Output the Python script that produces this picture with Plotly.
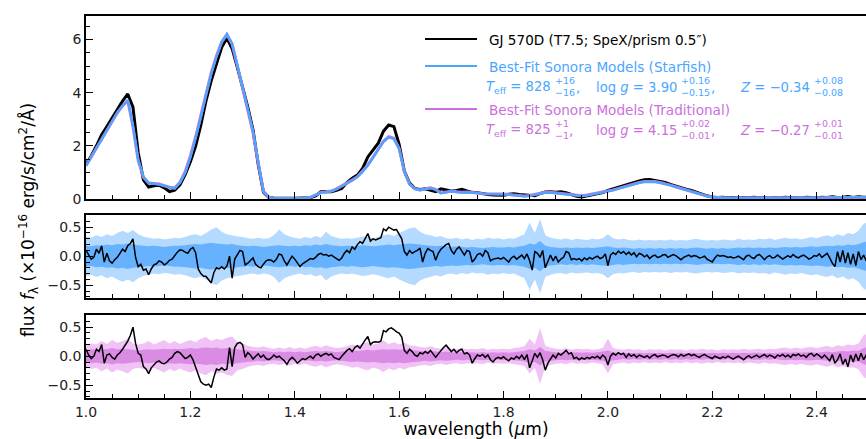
import plotly.graph_objects as go

# ---------------- data ----------------
W_TOP = [round(1.0 + 0.01 * i, 2) for i in range(151)]
W_RES = [round(1.0 + 0.005 * i, 3) for i in range(301)]

FLUX_OBS = [
    1.30, 1.62, 2.00, 2.42, 2.72, 3.05, 3.35, 3.68, 3.95, 3.45,
    1.75, 0.72, 0.45, 0.50, 0.52, 0.42, 0.28, 0.33, 0.53, 0.92,
    1.40, 1.98, 2.78, 3.70, 4.45, 5.05, 5.70, 6.05, 5.65, 4.95,
    4.25, 3.45, 2.60, 1.30, 0.25, 0.06, 0.04, 0.03, 0.04, 0.03,
    0.03, 0.04, 0.03, 0.05, 0.12, 0.27, 0.28, 0.27, 0.33, 0.40,
    0.62, 0.78, 0.90, 1.15, 1.58, 1.82, 2.10, 2.55, 2.78, 2.72,
    2.05, 1.05, 0.60, 0.40, 0.36, 0.38, 0.33, 0.28, 0.38, 0.33,
    0.30, 0.32, 0.36, 0.30, 0.25, 0.24, 0.20, 0.17, 0.15, 0.15,
    0.14, 0.18, 0.20, 0.17, 0.16, 0.14, 0.12, 0.20, 0.26, 0.27,
    0.25, 0.27, 0.24, 0.17, 0.10, 0.08, 0.12, 0.18, 0.20, 0.24,
    0.32, 0.38, 0.43, 0.50, 0.56, 0.63, 0.68, 0.72, 0.73, 0.70,
    0.66, 0.62, 0.55, 0.48, 0.42, 0.37, 0.32, 0.25, 0.19, 0.12,
    0.08, 0.06, 0.07, 0.05, 0.06, 0.04, 0.06, 0.05, 0.07, 0.05,
    0.06, 0.04, 0.06, 0.05, 0.07, 0.05, 0.06, 0.04, 0.07, 0.06,
    0.05, 0.07, 0.06, 0.08, 0.06, 0.07, 0.09, 0.06, 0.08, 0.07,
    0.06]

FLUX_STARFISH = [
    1.25, 1.58, 1.93, 2.28, 2.62, 2.95, 3.25, 3.52, 3.72, 2.75,
    1.48, 0.84, 0.60, 0.58, 0.55, 0.50, 0.44, 0.40, 0.60, 0.98,
    1.55, 2.25, 3.05, 3.92, 4.70, 5.35, 5.90, 6.20, 5.85, 5.05,
    4.25, 3.42, 2.55, 1.40, 0.30, 0.07, 0.03, 0.02, 0.02, 0.02,
    0.02, 0.03, 0.03, 0.06, 0.14, 0.24, 0.26, 0.29, 0.37, 0.47,
    0.58, 0.70, 0.83, 1.02, 1.26, 1.55, 1.86, 2.15, 2.32, 2.26,
    1.88, 1.02, 0.55, 0.38, 0.33, 0.36, 0.41, 0.35, 0.22, 0.25,
    0.30, 0.26, 0.24, 0.25, 0.24, 0.22, 0.19, 0.18, 0.18, 0.18,
    0.18, 0.16, 0.14, 0.12, 0.10, 0.12, 0.16, 0.21, 0.24, 0.24,
    0.22, 0.20, 0.18, 0.15, 0.12, 0.11, 0.14, 0.18, 0.22, 0.25,
    0.28, 0.33, 0.39, 0.45, 0.51, 0.56, 0.61, 0.64, 0.65, 0.64,
    0.61, 0.57, 0.51, 0.45, 0.39, 0.33, 0.28, 0.22, 0.16, 0.11,
    0.07, 0.05, 0.05, 0.04, 0.04, 0.03, 0.03, 0.03, 0.03, 0.03,
    0.03, 0.03, 0.04, 0.03, 0.04, 0.04, 0.04, 0.04, 0.05, 0.04,
    0.05, 0.05, 0.05, 0.05, 0.06, 0.05, 0.06, 0.06, 0.06, 0.06,
    0.06]

FLUX_TRADITIONAL = [
    1.25, 1.58, 1.93, 2.28, 2.62, 2.94, 3.24, 3.50, 3.70, 2.72,
    1.45, 0.82, 0.60, 0.58, 0.56, 0.50, 0.44, 0.41, 0.63, 1.03,
    1.62, 2.33, 3.12, 4.00, 4.75, 5.38, 5.90, 6.18, 5.82, 5.00,
    4.20, 3.38, 2.50, 1.35, 0.28, 0.07, 0.03, 0.02, 0.02, 0.02,
    0.02, 0.03, 0.03, 0.06, 0.15, 0.25, 0.27, 0.30, 0.38, 0.48,
    0.59, 0.71, 0.84, 1.04, 1.28, 1.57, 1.88, 2.17, 2.34, 2.28,
    1.90, 1.04, 0.56, 0.39, 0.34, 0.37, 0.42, 0.36, 0.23, 0.26,
    0.31, 0.27, 0.25, 0.26, 0.25, 0.23, 0.20, 0.19, 0.19, 0.19,
    0.19, 0.17, 0.15, 0.13, 0.11, 0.13, 0.17, 0.22, 0.25, 0.25,
    0.23, 0.21, 0.19, 0.16, 0.13, 0.12, 0.15, 0.19, 0.23, 0.26,
    0.29, 0.34, 0.40, 0.46, 0.52, 0.57, 0.62, 0.66, 0.67, 0.66,
    0.62, 0.58, 0.52, 0.46, 0.40, 0.34, 0.29, 0.23, 0.17, 0.11,
    0.07, 0.05, 0.05, 0.04, 0.04, 0.04, 0.04, 0.03, 0.03, 0.03,
    0.03, 0.04, 0.04, 0.04, 0.04, 0.04, 0.05, 0.04, 0.05, 0.05,
    0.05, 0.05, 0.06, 0.05, 0.06, 0.06, 0.06, 0.06, 0.07, 0.06,
    0.06]

RESID_STARFISH = [
    0.10, 0.02, -0.05, -0.02, 0.12, 0.05, 0.18, -0.10, 0.05, -0.08,
    -0.12, -0.06, -0.02, 0.05, 0.12, 0.08, 0.18, 0.22, 0.30, -0.02,
    -0.18, -0.14, -0.24, -0.22, -0.32, -0.22, -0.15, -0.13, -0.08, -0.10,
    -0.15, -0.12, -0.07, -0.05, 0.02, 0.07, 0.11, 0.10, 0.07, 0.05,
    0.12, 0.15, 0.06, -0.22, -0.30, -0.34, -0.35, -0.40, -0.46, -0.28,
    -0.20, -0.22, -0.18, -0.22, -0.17, 0.00, -0.38, -0.05, 0.03, 0.10,
    0.08, -0.15, -0.12, -0.08, -0.03, -0.14, -0.18, -0.20, -0.14, -0.08,
    -0.06, -0.07, -0.10, -0.05, 0.04, 0.02, -0.08, -0.15, -0.07, 0.00,
    -0.05, -0.12, -0.18, -0.13, -0.10, -0.08, -0.04, -0.05, -0.02, 0.03,
    0.05, 0.02, 0.03, 0.00, 0.02, -0.01, -0.04, -0.07, -0.03, 0.05,
    0.10, 0.06, 0.16, 0.12, 0.20, 0.25, 0.22, 0.30, 0.39, 0.26,
    0.30, 0.28, 0.30, 0.32, 0.47, 0.44, 0.50, 0.48, 0.45, 0.46,
    0.38, 0.30, 0.08, 0.02, 0.10, 0.05, 0.08, 0.10, 0.14, -0.10,
    0.05, 0.13, 0.10, 0.08, -0.07, 0.05, 0.12, 0.16, 0.20, 0.22,
    0.10, 0.04, 0.12, 0.16, 0.08, 0.02, 0.10, 0.08, -0.10, -0.05,
    0.03, 0.05, 0.00, 0.10, 0.06, -0.08, -0.05, -0.04, -0.03, -0.05,
    -0.02, -0.06, -0.10, -0.03, 0.00, -0.05, -0.02, 0.02, -0.04, 0.04,
    -0.08, -0.24, 0.08, 0.05, -0.02, 0.10, -0.20, -0.10, 0.02, -0.08,
    0.00, -0.10, -0.05, -0.02, 0.08, 0.06, -0.06, -0.04, -0.06, -0.04,
    -0.08, -0.03, -0.06, -0.02, -0.05, -0.02, 0.00, -0.04, -0.02, 0.04,
    -0.16, 0.02, 0.06, 0.03, 0.09, 0.05, 0.08, 0.03, 0.07, 0.02,
    0.06, -0.01, 0.05, 0.03, -0.01, 0.02, -0.04, 0.00, 0.02, -0.02,
    -0.01, 0.02, 0.03, -0.02, 0.01, 0.03, 0.01, -0.03, -0.06, -0.02,
    0.00, 0.02, -0.01, 0.01, 0.00, -0.03, -0.02, 0.00, -0.05, -0.08,
    -0.10, -0.03, 0.02, 0.00, 0.01, 0.00, -0.02, -0.01, -0.03, -0.02,
    0.00, -0.03, -0.06, 0.00, 0.02, -0.02, -0.04, 0.01, 0.03, -0.01,
    -0.06, -0.01, 0.01, -0.03, -0.02, 0.02, -0.01, -0.05, -0.02, 0.01,
    -0.02, 0.03, -0.01, -0.03, 0.00, 0.02, -0.01, -0.05, -0.03, 0.01,
    0.00, 0.04, -0.02, 0.01, 0.05, -0.03, -0.12, -0.18, 0.08, -0.10,
    0.10, -0.12, 0.06, -0.14, 0.04, -0.16, 0.08, -0.06, 0.02, -0.08,
    0.05]

RESID_TRADITIONAL = [
    0.12, 0.02, -0.04, 0.00, 0.12, 0.08, 0.20, -0.12, 0.02, 0.04,
    -0.02, -0.05, 0.02, 0.06, 0.12, 0.18, 0.26, 0.36, 0.50, 0.22,
    0.05, 0.02, -0.18, -0.22, -0.30, -0.20, -0.15, -0.10, -0.08, -0.12,
    -0.13, -0.10, -0.05, -0.02, 0.05, 0.08, 0.06, 0.00, -0.04, -0.02,
    0.02, -0.06, -0.20, -0.32, -0.44, -0.48, -0.50, -0.48, -0.54, -0.36,
    -0.22, -0.24, -0.20, -0.24, -0.22, 0.15, -0.18, 0.15, 0.22, 0.24,
    0.20, -0.02, 0.06, 0.02, -0.05, 0.00, 0.04, -0.02, 0.02, -0.04,
    -0.06, -0.03, 0.02, -0.02, 0.00, -0.04, -0.08, -0.14, -0.06, -0.02,
    -0.06, -0.12, -0.08, -0.04, -0.06, -0.03, 0.00, -0.04, 0.02, 0.04,
    0.00, 0.03, 0.05, 0.02, 0.04, -0.02, -0.04, -0.06, 0.00, 0.05,
    0.10, 0.13, 0.08, 0.15, 0.18, 0.14, 0.22, 0.28, 0.34, 0.20,
    0.24, 0.25, 0.24, 0.26, 0.44, 0.42, 0.47, 0.49, 0.46, 0.42,
    0.40, 0.33, 0.10, 0.05, 0.12, 0.08, 0.02, 0.00, 0.06, 0.04,
    0.08, 0.05, 0.10, 0.03, -0.02, 0.04, 0.10, 0.15, 0.19, 0.14,
    0.08, 0.12, 0.06, 0.10, 0.12, 0.04, 0.06, 0.02, -0.12, -0.04,
    0.02, 0.00, 0.03, -0.02, 0.02, -0.06, -0.10, -0.04, -0.02, -0.04,
    -0.01, -0.05, -0.08, -0.03, -0.05, 0.00, -0.04, 0.02, -0.06, 0.03,
    -0.20, -0.08, 0.05, -0.02, 0.06, -0.06, -0.24, -0.12, -0.04, 0.02,
    -0.03, 0.05, 0.02, 0.06, 0.10, 0.04, 0.06, -0.04, -0.02, -0.06,
    -0.03, -0.05, -0.02, -0.04, -0.01, -0.03, 0.00, -0.04, 0.02, -0.02,
    -0.15, 0.00, 0.05, 0.02, 0.06, 0.03, 0.05, -0.02, 0.04, 0.00,
    0.03, -0.02, 0.02, 0.00, -0.02, 0.01, -0.03, 0.01, 0.03, -0.01,
    0.00, 0.02, 0.01, -0.02, 0.01, 0.03, 0.02, -0.01, 0.03, 0.00,
    0.02, 0.04, 0.01, 0.03, 0.00, -0.02, 0.01, 0.03, 0.00, -0.02,
    -0.04, 0.00, -0.02, -0.04, -0.01, -0.03, 0.00, -0.02, -0.05, -0.02,
    0.00, -0.03, -0.06, -0.02, 0.01, -0.03, -0.01, 0.02, -0.02, 0.00,
    0.03, -0.01, 0.02, 0.00, -0.03, 0.02, 0.00, 0.03, -0.01, 0.02,
    -0.02, 0.03, 0.01, 0.04, 0.00, 0.02, -0.02, 0.03, 0.05, 0.00,
    0.04, 0.01, -0.03, 0.02, -0.04, -0.08, 0.03, -0.12, -0.06, 0.04,
    -0.14, -0.05, -0.18, 0.02, -0.10, 0.04, -0.08, 0.05, -0.06, 0.02,
    0.00]

# half-widths of the 1-sigma / 2-sigma residual bands (on W_TOP grid)
BAND_STARFISH_1 = [
    0.18, 0.17, 0.19, 0.18, 0.20, 0.19, 0.21, 0.20, 0.22, 0.20,
    0.19, 0.18, 0.17, 0.18, 0.17, 0.16, 0.17, 0.18, 0.18, 0.19,
    0.20, 0.21, 0.20, 0.22, 0.23, 0.22, 0.21, 0.20, 0.21, 0.19,
    0.18, 0.17, 0.18, 0.17, 0.16, 0.17, 0.18, 0.19, 0.18, 0.17,
    0.18, 0.17, 0.19, 0.18, 0.20, 0.19, 0.21, 0.19, 0.18, 0.17,
    0.18, 0.17, 0.18, 0.19, 0.18, 0.17, 0.18, 0.19, 0.20, 0.19,
    0.20, 0.21, 0.22, 0.21, 0.20, 0.19, 0.18, 0.17, 0.18, 0.17,
    0.16, 0.17, 0.16, 0.15, 0.16, 0.15, 0.14, 0.15, 0.16, 0.15,
    0.15, 0.16, 0.15, 0.17, 0.18, 0.22, 0.20, 0.26, 0.18, 0.16,
    0.15, 0.14, 0.15, 0.14, 0.15, 0.14, 0.15, 0.14, 0.15, 0.16,
    0.17, 0.15, 0.14, 0.15, 0.14, 0.13, 0.14, 0.13, 0.14, 0.13,
    0.14, 0.13, 0.14, 0.13, 0.14, 0.13, 0.14, 0.15, 0.14, 0.13,
    0.14, 0.13, 0.14, 0.13, 0.14, 0.15, 0.14, 0.15, 0.14, 0.15,
    0.14, 0.15, 0.14, 0.15, 0.16, 0.15, 0.16, 0.15, 0.16, 0.17,
    0.16, 0.17, 0.18, 0.17, 0.19, 0.18, 0.20, 0.19, 0.21, 0.24,
    0.26]
BAND_STARFISH_2 = [
    0.34, 0.32, 0.36, 0.33, 0.38, 0.35, 0.40, 0.44, 0.40, 0.45,
    0.38, 0.34, 0.32, 0.30, 0.31, 0.29, 0.30, 0.32, 0.31, 0.33,
    0.36, 0.38, 0.35, 0.40, 0.46, 0.50, 0.42, 0.38, 0.36, 0.34,
    0.33, 0.31, 0.30, 0.32, 0.30, 0.31, 0.36, 0.46, 0.38, 0.34,
    0.32, 0.30, 0.33, 0.31, 0.35, 0.32, 0.42, 0.35, 0.32, 0.30,
    0.31, 0.30, 0.32, 0.34, 0.33, 0.31, 0.33, 0.36, 0.38, 0.35,
    0.40, 0.44, 0.48, 0.50, 0.42, 0.38, 0.36, 0.33, 0.35, 0.31,
    0.30, 0.32, 0.29, 0.31, 0.28, 0.30, 0.29, 0.32, 0.30, 0.31,
    0.29, 0.31, 0.30, 0.34, 0.38, 0.58, 0.40, 0.64, 0.36, 0.32,
    0.30, 0.29, 0.31, 0.28, 0.30, 0.29, 0.28, 0.30, 0.29, 0.31,
    0.38, 0.31, 0.29, 0.30, 0.28, 0.27, 0.29, 0.27, 0.28, 0.27,
    0.28, 0.27, 0.29, 0.27, 0.28, 0.27, 0.29, 0.30, 0.28, 0.27,
    0.28, 0.27, 0.29, 0.28, 0.27, 0.30, 0.28, 0.29, 0.28, 0.30,
    0.29, 0.31, 0.28, 0.30, 0.32, 0.30, 0.31, 0.29, 0.31, 0.33,
    0.31, 0.34, 0.36, 0.33, 0.38, 0.35, 0.40, 0.38, 0.44, 0.56,
    0.60]
BAND_TRAD_1 = [
    0.10, 0.12, 0.11, 0.13, 0.12, 0.14, 0.12, 0.13, 0.12, 0.11,
    0.10, 0.11, 0.12, 0.11, 0.12, 0.13, 0.12, 0.13, 0.12, 0.13,
    0.14, 0.13, 0.14, 0.15, 0.14, 0.15, 0.13, 0.14, 0.13, 0.12,
    0.11, 0.10, 0.09, 0.08, 0.09, 0.08, 0.07, 0.08, 0.07, 0.08,
    0.07, 0.08, 0.07, 0.08, 0.09, 0.08, 0.09, 0.08, 0.07, 0.08,
    0.09, 0.10, 0.09, 0.10, 0.11, 0.10, 0.11, 0.12, 0.11, 0.12,
    0.11, 0.12, 0.11, 0.10, 0.09, 0.08, 0.09, 0.08, 0.07, 0.08,
    0.07, 0.06, 0.07, 0.06, 0.07, 0.06, 0.07, 0.06, 0.07, 0.06,
    0.07, 0.06, 0.07, 0.08, 0.09, 0.12, 0.10, 0.16, 0.09, 0.08,
    0.07, 0.06, 0.07, 0.06, 0.07, 0.06, 0.07, 0.06, 0.07, 0.08,
    0.10, 0.07, 0.06, 0.05, 0.06, 0.05, 0.06, 0.05, 0.06, 0.05,
    0.06, 0.05, 0.06, 0.05, 0.06, 0.05, 0.06, 0.05, 0.06, 0.05,
    0.06, 0.05, 0.06, 0.05, 0.06, 0.05, 0.06, 0.05, 0.06, 0.06,
    0.05, 0.06, 0.05, 0.06, 0.07, 0.06, 0.07, 0.06, 0.07, 0.07,
    0.06, 0.07, 0.08, 0.07, 0.08, 0.09, 0.08, 0.10, 0.09, 0.14,
    0.16]
BAND_TRAD_2 = [
    0.18, 0.22, 0.20, 0.26, 0.21, 0.28, 0.23, 0.26, 0.30, 0.22,
    0.20, 0.22, 0.26, 0.20, 0.24, 0.28, 0.22, 0.26, 0.21, 0.25,
    0.28, 0.24, 0.30, 0.33, 0.26, 0.30, 0.28, 0.32, 0.34, 0.24,
    0.22, 0.18, 0.16, 0.15, 0.17, 0.14, 0.13, 0.15, 0.13, 0.16,
    0.13, 0.15, 0.13, 0.16, 0.18, 0.15, 0.19, 0.16, 0.14, 0.15,
    0.17, 0.20, 0.18, 0.22, 0.24, 0.20, 0.22, 0.27, 0.21, 0.24,
    0.20, 0.23, 0.19, 0.18, 0.16, 0.15, 0.17, 0.14, 0.13, 0.15,
    0.13, 0.12, 0.14, 0.12, 0.13, 0.12, 0.14, 0.11, 0.13, 0.12,
    0.13, 0.12, 0.14, 0.15, 0.17, 0.30, 0.20, 0.48, 0.18, 0.15,
    0.13, 0.12, 0.14, 0.11, 0.13, 0.12, 0.13, 0.11, 0.12, 0.14,
    0.30, 0.14, 0.12, 0.11, 0.13, 0.11, 0.12, 0.10, 0.12, 0.11,
    0.12, 0.10, 0.12, 0.11, 0.12, 0.10, 0.12, 0.11, 0.13, 0.11,
    0.12, 0.10, 0.12, 0.11, 0.12, 0.11, 0.13, 0.11, 0.12, 0.13,
    0.11, 0.13, 0.12, 0.14, 0.15, 0.13, 0.15, 0.13, 0.15, 0.16,
    0.14, 0.16, 0.18, 0.15, 0.19, 0.17, 0.20, 0.19, 0.22, 0.36,
    0.40]

X_TICKS = [1.0, 1.2, 1.4, 1.6, 1.8, 2.0, 2.2, 2.4]
X_TICK_LABELS = ["1.0", "1.2", "1.4", "1.6", "1.8", "2.0", "2.2", "2.4"]
Y_TOP_TICKS = [0, 2, 4, 6]
Y_RES_TICKS = [-0.5, 0.0, 0.5]
Y_RES_LABELS = ["\u22120.5", "0.0", "0.5"]

# ---------------- style ----------------
BLUE = "#4aa6ff"
PINK = "#cc70dd"
BLUE_1, BLUE_2 = "#66b2ff", "#b5daff"
PINK_1, PINK_2 = "#da8ce4", "#f1c2f6"
FONT = "DejaVu Sans"

FW, FH = 866, 439
ML, MR, MT, MB = 86, 0, 16, 41
PW, PH = FW - ML - MR, FH - MT - MB


def px(x):
    return (x - ML) / PW


def py(y):
    return (FH - MB - y) / PH


fig = go.Figure()


def band(xs, half, color, xa, ya):
    xx = list(xs) + list(xs)[::-1]
    yy = list(half) + [-h for h in half][::-1]
    fig.add_trace(go.Scatter(x=xx, y=yy, fill="toself", fillcolor=color,
                             mode="none", hoverinfo="skip", showlegend=False,
                             xaxis=xa, yaxis=ya))


# top panel
fig.add_trace(go.Scatter(x=W_TOP, y=FLUX_OBS, mode="lines",
                         line=dict(color="black", width=3), showlegend=False))
fig.add_trace(go.Scatter(x=W_TOP, y=FLUX_TRADITIONAL, mode="lines",
                         line=dict(color=PINK, width=3), showlegend=False))
fig.add_trace(go.Scatter(x=W_TOP, y=FLUX_STARFISH, mode="lines",
                         line=dict(color=BLUE, width=2.3), showlegend=False))

# middle panel
band(W_TOP, BAND_STARFISH_2, BLUE_2, "x2", "y2")
band(W_TOP, BAND_STARFISH_1, BLUE_1, "x2", "y2")
fig.add_trace(go.Scatter(x=W_RES, y=RESID_STARFISH, mode="lines",
                         line=dict(color="black", width=1.5), showlegend=False,
                         xaxis="x2", yaxis="y2"))

# bottom panel
band(W_TOP, BAND_TRAD_2, PINK_2, "x3", "y3")
band(W_TOP, BAND_TRAD_1, PINK_1, "x3", "y3")
fig.add_trace(go.Scatter(x=W_RES, y=RESID_TRADITIONAL, mode="lines",
                         line=dict(color="black", width=1.5), showlegend=False,
                         xaxis="x3", yaxis="y3"))

XR = [1.0, 1.0 + PW / 521.9]
common_x = dict(range=XR, tickvals=X_TICKS, ticktext=X_TICK_LABELS,
                ticks="inside", ticklen=7, tickwidth=1.3, tickcolor="black",
                showline=True, linecolor="black", linewidth=1.5, mirror=True,
                showgrid=False, zeroline=False, automargin=False,
                minor=dict(dtick=0.05, tick0=1.0, ticks="inside", ticklen=4,
                           tickwidth=1, tickcolor="black", showgrid=False),
                tickfont=dict(family=FONT, size=14, color="#222"))
common_y = dict(ticks="inside", ticklen=7, tickwidth=1.3, tickcolor="black",
                showline=True, linecolor="black", linewidth=1.5, mirror=False,
                showgrid=False, zeroline=False, automargin=False,
                tickfont=dict(family=FONT, size=14, color="#222"))

fig.update_layout(
    width=FW, height=FH,
    margin=dict(l=ML, r=MR, t=MT, b=MB, pad=0, autoexpand=False),
    paper_bgcolor="white", plot_bgcolor="white",
    font=dict(family=FONT, size=14, color="black"),
    xaxis=dict(common_x, domain=[0, 1], anchor="y", showticklabels=False),
    xaxis2=dict(common_x, domain=[0, 1], anchor="y2", showticklabels=False,
                matches="x"),
    xaxis3=dict(common_x, domain=[0, 1], anchor="y3", matches="x",
                title=dict(text="wavelength (<i>\u03bc</i>m)",
                           font=dict(family=FONT, size=17), standoff=2)),
    yaxis=dict(common_y, domain=[py(199), py(16)], range=[0, 6.88],
               tickvals=Y_TOP_TICKS,
               minor=dict(dtick=0.5, ticks="inside", ticklen=4, tickwidth=1,
                          tickcolor="black", showgrid=False)),
    yaxis2=dict(common_y, domain=[py(298), py(215)], range=[-0.72, 0.71],
                tickvals=Y_RES_TICKS, ticktext=Y_RES_LABELS,
                minor=dict(dtick=0.1, tick0=0, ticks="inside", ticklen=4,
                           tickwidth=1, tickcolor="black", showgrid=False)),
    yaxis3=dict(common_y, domain=[0, py(315)], range=[-0.72, 0.71],
                tickvals=Y_RES_TICKS, ticktext=Y_RES_LABELS,
                minor=dict(dtick=0.1, tick0=0, ticks="inside", ticklen=4,
                           tickwidth=1, tickcolor="black", showgrid=False)),
)

# y-axis title
fig.add_annotation(
    text="flux <i>f</i><sub>\u03bb</sub> (\u00d710<sup>\u221216</sup> erg/s/cm<sup>2</sup>/\u00c5)",
    xref="paper", yref="paper", x=px(28), y=py(220), textangle=-90,
    showarrow=False, font=dict(family=FONT, size=17, color="black"),
    xanchor="center", yanchor="middle")

# legend (custom)
legend_rows = [
    ("black", 39, "GJ 570D (T7.5; SpeX/prism 0.5\u2033)", 40),
    (BLUE, 66, "Best-Fit Sonora Models (Starfish)", 67),
    (PINK, 109, "Best-Fit Sonora Models (Traditional)", 110),
]
for col, ly, txt, ty in legend_rows:
    fig.add_shape(type="line", xref="paper", yref="paper",
                  x0=px(425), x1=px(477), y0=py(ly), y1=py(ly),
                  line=dict(color=col, width=2))
    fig.add_annotation(text=txt, xref="paper", yref="paper", x=px(487),
                       y=py(ty), xanchor="left", yanchor="middle",
                       showarrow=False,
                       font=dict(family=FONT, size=13.6, color=col))

# parameter rows: (main text, right edge px, sup/sub text, comma x px or None)
PARAMS = [
    (BLUE, 87, [("<i>T</i><sub>eff</sub> = 828", 553, "+16<br>\u221216", 574),
                ("log <i>g</i> = 3.90", 679, "+0.16<br>\u22120.15", 709),
                ("<i>Z</i> = \u22120.34", 812, "+0.08<br>\u22120.08", None)]),
    (PINK, 130, [("<i>T</i><sub>eff</sub> = 825", 553, "+1<br>\u22121", 567),
                 ("log <i>g</i> = 4.15", 679, "+0.02<br>\u22120.01", 709),
                 ("<i>Z</i> = \u22120.27", 812, "+0.01<br>\u22120.01", None)]),
]
for col, yy, items in PARAMS:
    for main, xr, supsub, comma in items:
        fig.add_annotation(text=main, xref="paper", yref="paper",
                           x=px(xr), y=py(yy), xanchor="right",
                           yanchor="middle", showarrow=False,
                           font=dict(family=FONT, size=13.2, color=col))
        fig.add_annotation(text=supsub, xref="paper", yref="paper",
                           x=px(xr), y=py(yy - 1), xanchor="left",
                           yanchor="middle", align="left", showarrow=False,
                           font=dict(family=FONT, size=9.5, color=col))
        if comma:
            fig.add_annotation(text=",", xref="paper", yref="paper",
                               x=px(comma), y=py(yy), xanchor="left",
                               yanchor="middle", showarrow=False,
                               font=dict(family=FONT, size=13.2, color=col))

fig.write_html("out.html",
               config={"displayModeBar": False},
               post_script="document.body.style.margin='0';"
                           "document.body.style.overflow='hidden';")
